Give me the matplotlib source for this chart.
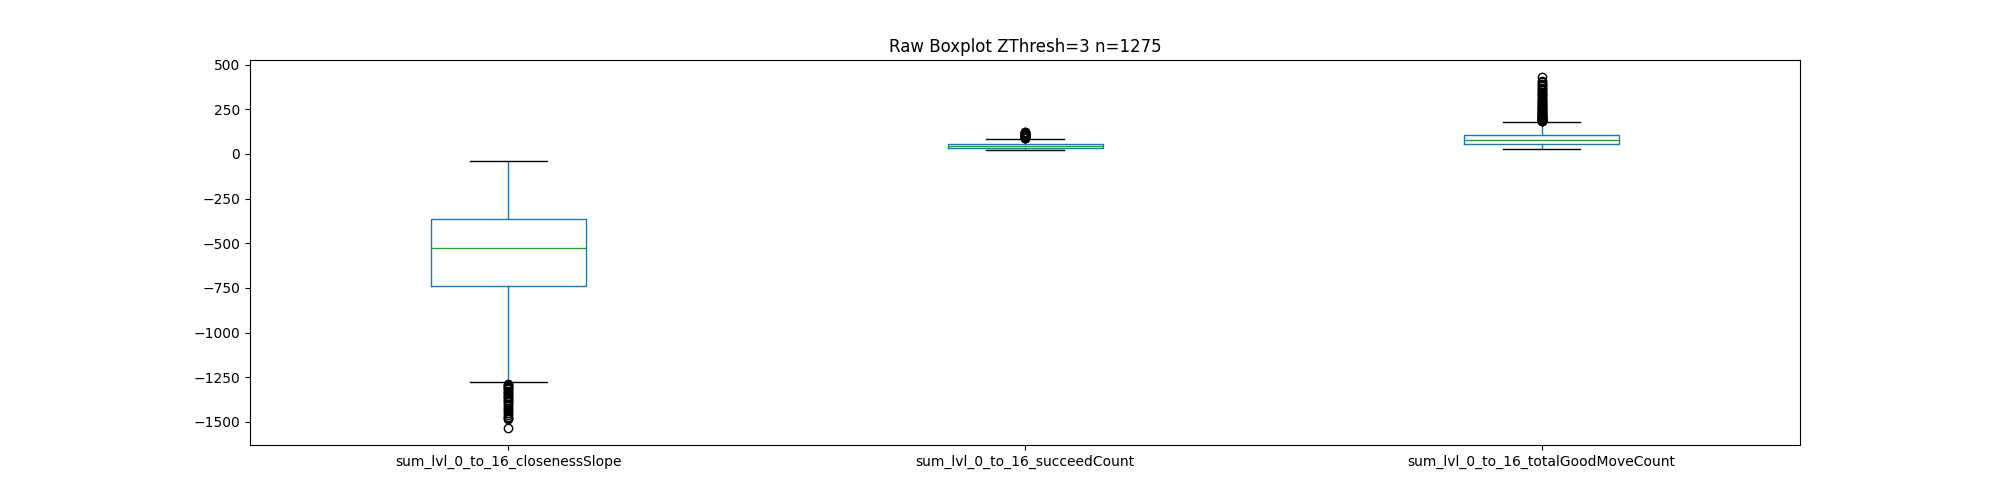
import matplotlib
matplotlib.use('Agg')
import matplotlib.pyplot as plt

# columns shown in the boxplot
labels = ['sum_lvl_0_to_16_closenessSlope',
          'sum_lvl_0_to_16_succeedCount',
          'sum_lvl_0_to_16_totalGoodMoveCount']

# box stats
medians = [-526, 45, 78]
q1s = [-738, 33, 56]
q3s = [-365, 54, 104]
whis_lo = [-1278, 24, 28]
whis_hi = [-39, 84, 180]

# outliers
fliers_slope = [-1290, -1295, -1300, -1305, -1312, -1318, -1325, -1330,
                -1338, -1345, -1352, -1360, -1368, -1375, -1382, -1390,
                -1400, -1410, -1420, -1430, -1440, -1450, -1460, -1470,
                -1478, -1485, -1531]
fliers_succeed = [88, 90, 92, 94, 96, 98, 100, 103, 105, 108, 110, 113,
                  115, 118, 120, 123, 125]
fliers_goodmove = [182, 184, 186, 188, 190, 192, 194, 196, 198, 200, 203,
                   206, 209, 212, 215, 218, 221, 225, 229, 233, 237, 241,
                   245, 250, 255, 260, 265, 270, 275, 280, 286, 292, 298,
                   304, 310, 316, 322, 328, 335, 342, 349, 356, 363, 370,
                   378, 386, 394, 402, 410, 428]
fliers = [fliers_slope, fliers_succeed, fliers_goodmove]

stats = []
for i in range(len(labels)):
    stats.append({'label': labels[i], 'med': medians[i], 'q1': q1s[i],
                  'q3': q3s[i], 'whislo': whis_lo[i], 'whishi': whis_hi[i],
                  'fliers': fliers[i]})

fig, ax = plt.subplots(figsize=(20, 5), dpi=100)
# same colours as the pandas box plot
ax.bxp(stats,
       boxprops=dict(color='#1f77b4'),
       whiskerprops=dict(color='#1f77b4'),
       medianprops=dict(color='#2ca02c'),
       capprops=dict(color='k'),
       flierprops=dict(marker='o', markeredgecolor='k', markerfacecolor='none'))
ax.set_title('Raw Boxplot ZThresh=3 n=1275')

plt.savefig('out.png')
